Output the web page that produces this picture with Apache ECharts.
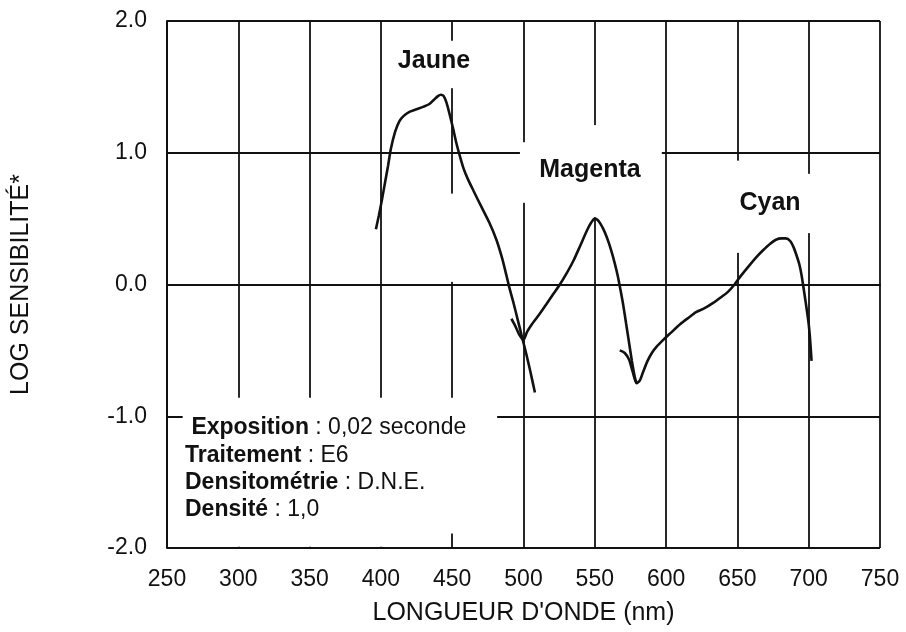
<!DOCTYPE html>
<html>
<head>
<meta charset="utf-8">
<script src="https://cdn.jsdelivr.net/npm/echarts@6/dist/echarts.min.js"></script>
<style>
  html, body { margin: 0; padding: 0; background: #fff; }
  #chart { width: 906px; height: 632px; }
</style>
</head>
<body>
<div id="chart"></div>
<script>
// wavelength (nm), log sensitivity
const jaune = [
  [396.5, 0.42], [398.5, 0.52], [400.5, 0.63], [403, 0.78], [405, 0.90], [407, 1.03],
  [410, 1.16], [413, 1.24], [416, 1.28], [420, 1.31], [425, 1.33], [430, 1.35],
  [434, 1.37], [437, 1.40], [440, 1.43], [442, 1.44], [444, 1.43], [446, 1.38],
  [448, 1.30], [450.5, 1.19], [453, 1.07], [455.5, 0.97], [458, 0.88], [461, 0.80],
  [465, 0.71], [470, 0.60], [476, 0.47], [481, 0.34], [485, 0.20], [488, 0.07],
  [490, -0.02], [493, -0.14], [496, -0.27], [499, -0.40], [502, -0.53], [505, -0.67],
  [508, -0.82]
]
const magenta = [
  [491.5, -0.26], [494, -0.31], [497, -0.38], [500, -0.42], [502.5, -0.36], [506, -0.30],
  [511.5, -0.22], [516, -0.15], [521, -0.07], [525.5, 0.0], [530, 0.08], [535, 0.18],
  [540, 0.30], [544.5, 0.41], [547.5, 0.47], [550, 0.50], [552, 0.49], [554, 0.46],
  [556, 0.42], [558, 0.37], [560, 0.31], [562, 0.24], [564, 0.16], [566, 0.07],
  [568, -0.04], [570, -0.16], [572, -0.30], [574, -0.44], [576, -0.58], [578, -0.70],
  [579.3, -0.75]
]
const cyan = [
  [567.5, -0.50], [571, -0.52], [574, -0.57], [576.5, -0.66], [579.3, -0.75], [581.5, -0.73],
  [584, -0.66], [587, -0.58], [590, -0.52], [593.5, -0.47], [598, -0.42], [602, -0.38],
  [610, -0.30], [616, -0.25], [621, -0.21], [627, -0.18], [633, -0.14], [638, -0.10],
  [643, -0.06], [648, 0.0], [652, 0.06], [658, 0.14], [663.5, 0.21], [668, 0.26],
  [673, 0.31], [677, 0.34], [681, 0.35], [684, 0.35], [687, 0.33], [689.5, 0.28],
  [691.5, 0.22], [693.5, 0.15], [695, 0.07], [697, -0.07], [698.5, -0.18], [700, -0.30],
  [701, -0.42], [702, -0.58]
]

const curveNames = ['Jaune', 'Magenta', 'Cyan']
const infoLines = [
  [' Exposition', ' : 0,02 seconde'],
  ['Traitement', ' : E6'],
  ['Densitométrie', ' : D.N.E.'],
  ['Densité', ' : 1,0']
]

// white-out patches on the grid (as in the scanned figure): [x, yFrom, yTo] and [y, xFrom, xTo]
const vGaps = [
  [450, 1.85, 1.49], [450, 0.69, 0.02], [500, 1.08, 0.62], [550, 1.21, 0.51],
  [650, 0.94, 0.24], [700, 0.84, 0.39],
  [300, -0.86, -1.99], [350, -0.86, -1.99], [400, -0.86, -1.99], [450, -0.86, -1.89]
]
const hGaps = [[1.0, 497.5, 597], [-1.0, 261, 481.5]]

const FONT = "'Liberation Sans', Arial, Helvetica, sans-serif"
const INK = '#111'

const chart = echarts.init(document.getElementById('chart'))

const lineSeries = (name, data) => ({
  name,
  type: 'line',
  data,
  smooth: 0.25,
  showSymbol: false,
  silent: true,
  z: 5,
  lineStyle: { color: INK, width: 2.6 },
})

chart.setOption({
  animation: false,
  backgroundColor: '#fff',
  grid: { left: 167, right: 26, top: 21, bottom: 84, outerBoundsMode: 'none' },
  xAxis: {
    type: 'value',
    min: 250,
    max: 750,
    interval: 50,
    name: "LONGUEUR D'ONDE (nm)",
    nameLocation: 'middle',
    nameGap: 53,
    nameTextStyle: { fontFamily: FONT, fontSize: 25, color: INK },
    axisLine: { show: true, lineStyle: { color: INK, width: 2 } },
    axisTick: { show: false },
    axisLabel: { fontFamily: FONT, fontSize: 23, color: INK, margin: 20 },
    splitLine: { show: true, lineStyle: { color: INK, width: 1.8 } },
  },
  yAxis: {
    type: 'value',
    min: -2,
    max: 2,
    interval: 1,
    name: 'LOG SENSIBILITÉ*',
    nameLocation: 'middle',
    nameGap: 133,
    nameTextStyle: { fontFamily: FONT, fontSize: 25, color: INK },
    axisLine: { show: true, lineStyle: { color: INK, width: 2 } },
    axisTick: { show: false },
    axisLabel: {
      fontFamily: FONT, fontSize: 23, color: INK, margin: 20,
      padding: [10, 0, 0, 0],
      formatter: v => v.toFixed(1),
    },
    splitLine: { show: true, lineStyle: { color: INK, width: 1.8 } },
  },
  series: [
    lineSeries(curveNames[0], jaune),
    lineSeries(curveNames[1], magenta),
    lineSeries(curveNames[2], cyan),
  ],
})

// build the graphic layer once the scales exist
const px = (x, y) => chart.convertToPixel({ gridIndex: 0 }, [x, y])
const patches = []
vGaps.forEach(([x, y1, y2]) => {
  const a = px(x, y1), b = px(x, y2)
  patches.push({ type: 'rect', z: 1, silent: true,
    shape: { x: a[0] - 3, y: a[1], width: 6, height: b[1] - a[1] },
    style: { fill: '#fff' } })
})
hGaps.forEach(([y, x1, x2]) => {
  const a = px(x1, y), b = px(x2, y)
  patches.push({ type: 'rect', z: 1, silent: true,
    shape: { x: a[0], y: a[1] - 3, width: b[0] - a[0], height: 6 },
    style: { fill: '#fff' } })
})

const curveLabels = [[434, 61], [590, 170], [770, 203]].map(([x, y], i) => ({
  type: 'text', z: 10, silent: true, x, y,
  style: {
    text: curveNames[i], fontFamily: FONT, fontSize: 25, fontWeight: 'bold',
    fill: INK, textAlign: 'center', textVerticalAlign: 'middle',
  },
}))

const infoText = infoLines.map(([b, r], i) => ({
  type: 'text', z: 10, silent: true, x: 185, y: 428 + i * 27.3,
  style: {
    text: `{b|${b}}{r|${r}}`,
    textVerticalAlign: 'middle',
    rich: {
      b: { fontFamily: FONT, fontSize: 23, fontWeight: 'bold', fill: INK, color: INK },
      r: { fontFamily: FONT, fontSize: 23, fill: INK, color: INK },
    },
  },
}))

chart.setOption({ graphic: { elements: [...patches, ...curveLabels, ...infoText] } })
</script>
</body>
</html>
